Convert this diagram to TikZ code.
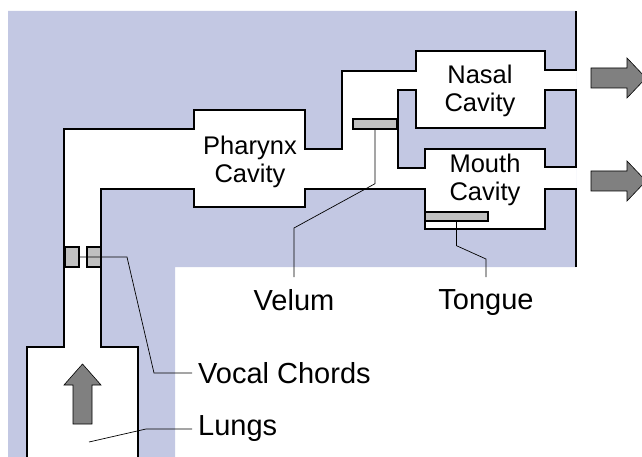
\documentclass[tikz,border=0pt]{standalone}
\usepackage{fontspec}
\setmainfont{Liberation Sans}

\definecolor{tissuecol}{RGB}{195,200,227}
\definecolor{foldcol}{RGB}{192,192,192}
\definecolor{flowcol}{RGB}{128,128,128}

\begin{document}
\begin{tikzpicture}[
    x=1pt, y=-1pt,
    tissue/.style={fill=tissuecol, draw=none},
    airway/.style={fill=white, draw=none},
    wall/.style={draw=black, line width=1.8pt, line join=miter},
    fold/.style={rectangle, draw=black, line width=1.4pt, fill=foldcol, inner sep=0pt},
    flow/.style={draw=black, line width=0.6pt, fill=flowcol, line join=miter},
    leader/.style={draw=black, line width=0.7pt},
    cavity/.style={align=center, inner sep=0pt, font=\fontsize{25.5}{28}\selectfont},
    lbl/.style={inner xsep=6pt, inner ysep=12pt, font=\fontsize{29}{32}\selectfont}
  ]
  \useasboundingbox (0,0) rectangle (642,457);

  \path[tissue] (8,11) -| (576,267) -| (175,457) -- (8,457) -- cycle;
  \path[airway] (27,457) |- (64,347) |- (194,129) |- (305,110) |- (342,149) |- (416,71) |- (545,51) |- (576,70)
    -- (576,90) -| (545,128) -| (416,90) -| (398,168) -| (425,149) -| (545,167) -- (576,167)
    -- (576,189) -| (545,229) -| (425,189) -| (305,207) -| (194,189) -| (101,347) -| (138,457) -- cycle;

  \draw[wall] (27,457) |- (64,347) |- (194,129) |- (305,110) |- (342,149) |- (416,71) |- (545,51) |- (576,70) -- (576,11);
  \draw[wall] (576,90) -| (545,128) -| (416,90) -| (398,168) -| (425,149) -| (545,167) -- (576,167) -- cycle;
  \draw[wall] (576,267) -- (576,189) -| (545,229) -| (425,189) -| (305,207) -| (194,189) -| (101,347) -| (138,457);

  \node[cavity] (pharynx) at (250,162) {Pharynx\\Cavity};
  \node[cavity] (nasal) at (480,91) {Nasal\\Cavity};
  \node[cavity] (mouth) at (485,180) {Mouth\\Cavity};

  \node[fold, minimum width=44pt, minimum height=10pt] (velum) at (375,124) {};
  \node[fold, minimum width=63pt, minimum height=9pt] (tongue) at (456.5,216.5) {};
  \node[fold, minimum width=14pt, minimum height=20pt] (chordL) at (72,257) {};
  \node[fold, minimum width=14pt, minimum height=20pt] (chordR) at (94,257) {};

  \node[lbl, anchor=north] (velumlbl) at (294,277) {Velum};
  \node[lbl, anchor=north] (tonguelbl) at (486,277) {Tongue};
  \node[lbl, anchor=west] (chordlbl) at (192,373) {Vocal Chords};
  \node[lbl, anchor=west] (lungslbl) at (192,429) {Lungs};
  \coordinate (lungs) at (89,442);

  \draw[leader] (velum.south) -- ++(0,54) -- (294,228) -- (velumlbl.north);
  \draw[leader] (tongue.south) -- ++(0,24) -- (486,259) -- (tonguelbl.north);
  \draw[leader] (chordL.east) -- (127,257) -- (154,373) -- (chordlbl.west);
  \draw[leader] (lungs) -- (146,429) -- (lungslbl.west);

  \draw[flow] (73,424) -- (73,385) -- (64,385) -- (82.5,364) -- (101,385) -- (92,385) -- (92,424) -- cycle;
  \foreach \y in {78,181}
    \draw[flow] (591,\y-10) -- (627,\y-10) -- (627,\y-20) -- (646,\y) -- (627,\y+20) -- (627,\y+10) -- (591,\y+10) -- cycle;
\end{tikzpicture}
\end{document}
